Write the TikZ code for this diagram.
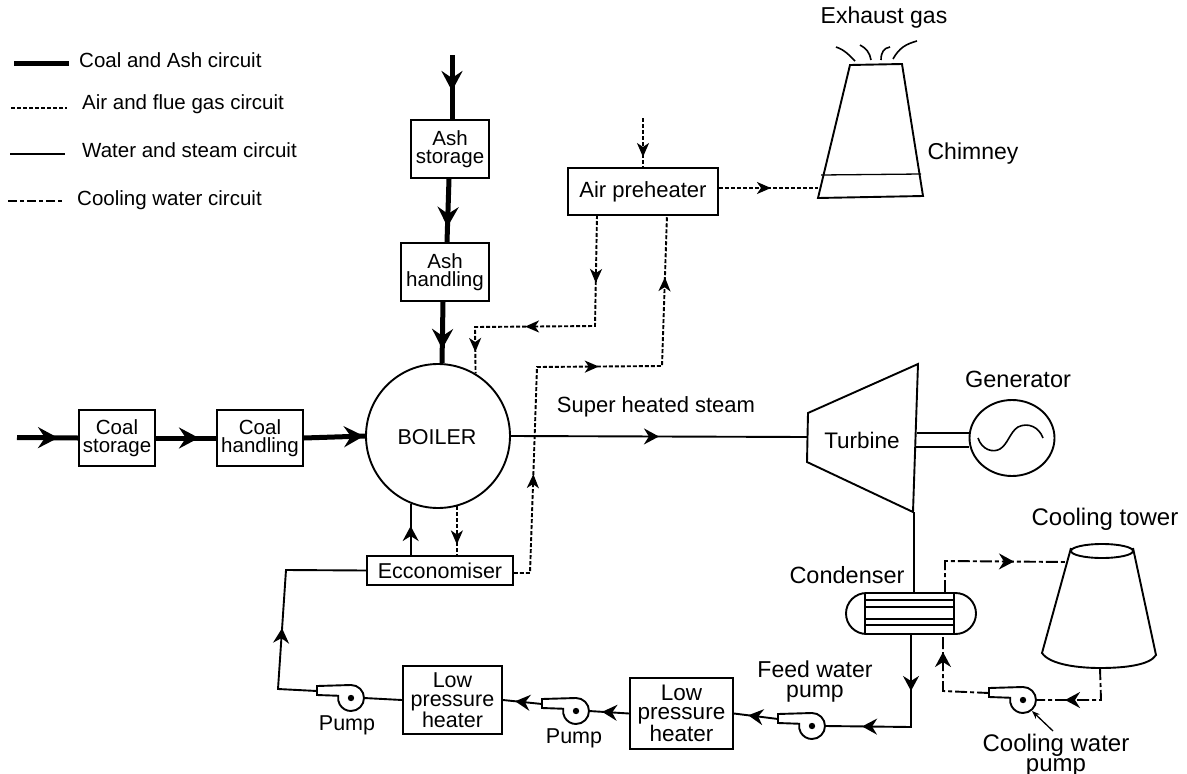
\documentclass[tikz,border=0pt]{standalone}
\usepackage{fontspec}
\setmainfont{Liberation Sans}
\usetikzlibrary{arrows.meta,decorations.markings,shapes.geometric,shapes.misc}
\tikzset{
    bigtip/.tip={Stealth[length=20pt,width=21pt,inset=7pt]},
    midtip/.tip={Stealth[length=15pt,width=16pt,inset=5pt]},
    airtip/.tip={Stealth[length=14pt,width=12pt,inset=4pt]},
    coal/.style={line width=5pt},
    water/.style={line width=1.9pt},
    air/.style={line width=1.9pt,dash pattern=on 4pt off 2pt},
    cool/.style={line width=1.9pt,dash pattern=on 12pt off 3pt on 4pt off 3pt},
    keyair/.style={line width=1.3pt,dash pattern=on 4pt off 2pt},
    keywater/.style={line width=1.6pt},
    keycool/.style={line width=1.6pt,dash pattern=on 9pt off 3pt on 4pt off 3pt},
    coalflow/.style={postaction={decorate,decoration={markings,mark=at position #1 with {\arrow{bigtip}}}}},
    flow/.style={postaction={decorate,decoration={markings,mark=at position #1 with {\arrow{midtip}}}}},
    airflow/.style={postaction={decorate,decoration={markings,mark=at position #1 with {\arrow{airtip}}}}},
    lbl/.style={inner sep=0pt,align=center,font=\fontsize{21.5}{20}\selectfont},
    biglbl/.style={inner sep=0pt,align=center,font=\fontsize{23.5}{20}\selectfont},
    keylbl/.style={inner sep=0pt,anchor=west,font=\fontsize{20.5}{20}\selectfont},
    box/.style={draw,line width=1.9pt,inner sep=0pt,align=center,font=\fontsize{21.5}{19.5}\selectfont},
    smallbox/.style={box,font=\fontsize{20.5}{18.5}\selectfont},
    pump/.pic={
        \draw[line width=1.9pt,fill=white] (-34,-12) -- (0,-13) arc[start angle=-90,end angle=190,radius=13] -- (-34,-3) -- cycle;
        \fill (0,0) circle (3.2);
        \coordinate (-in) at (13,0);
        \coordinate (-out) at (-34,-7);
        \coordinate (-call) at (9,11);
    }
}
\begin{document}
\begin{tikzpicture}[x=1pt,y=-1pt]
\useasboundingbox (0,0) rectangle (1187,774);

\foreach \i/\xa/\xb/\ya/\xt/\yt/\s/\t in {
    1/14/69/63/79/60/coal/Coal and Ash circuit,
    2/11/67/108/82/104/keyair/Air and flue gas circuit,
    3/10/65/154/82/150/keywater/Water and steam circuit,
    4/8/62/201/77/200/keycool/Cooling water circuit} {
    \coordinate (keya\i) at (\xa,\ya);
    \coordinate (keyb\i) at (\xb,\ya);
    \draw[\s] (keya\i) -- (keyb\i);
    \node[keylbl] (key\i) at (\xt,\yt) {\t};
}

\node[smallbox,minimum width=78pt,minimum height=58pt] (ashstore) at (450,149) {Ash\\storage};
\node[smallbox,minimum width=88pt,minimum height=58pt] (ashhandle) at (445,272) {Ash\\handling};
\node[smallbox,minimum width=76pt,minimum height=56pt] (coalstore) at (117,438) {Coal\\storage};
\node[smallbox,minimum width=86pt,minimum height=56pt] (coalhandle) at (260,438) {Coal\\handling};
\node[draw,circle,line width=1.9pt,inner sep=0pt,minimum size=144pt] (boiler) at (438,436) {};
\node[lbl] (boilertxt) at (437,437) {BOILER};
\node[box,minimum width=150pt,minimum height=47pt,font=\fontsize{22}{20}\selectfont] (airheat) at (643,191.5) {Air preheater};
\node[box,minimum width=146pt,minimum height=29pt] (econ) at (440,570.5) {Ecconomiser};
\node[box,minimum width=99pt,minimum height=68pt] (lpha) at (452.5,700) {Low\\pressure\\heater};
\node[box,minimum width=103pt,minimum height=71pt,font=\fontsize{22.5}{19.5}\selectfont] (lphb) at (681.5,713.5) {Low\\pressure\\heater};

\pic (pa) at (351,698) {pump};
\pic (pb) at (576,711) {pump};
\pic (fwp) at (812,726) {pump};
\pic (cwp) at (1023,700) {pump};

\coordinate (ashin) at (452,55);
\coordinate (coalin) at (17,437.5);
\draw[coal,coalflow=36pt] (ashin) -- ([xshift=2pt]ashstore.north);
\draw[coal,coalflow=48pt] ([xshift=-1pt]ashstore.south) -- ([xshift=2pt]ashhandle.north);
\draw[coal,coalflow=47pt] ([xshift=-2pt]ashhandle.south) -- (boiler.north -| 442,0);
\draw[coal,coalflow=41pt] (coalin) -- (coalstore.west);
\draw[coal,coalflow=43pt] (coalstore.east) -- (coalhandle.west);
\draw[coal,coalflow=60pt] (coalhandle.east) -- (boiler.west);

\coordinate (airin) at (643,118);
\coordinate (aa) at (597,215);
\coordinate (ab) at (595,326);
\coordinate (ac) at (475,327);
\coordinate (ea) at (530,573);
\coordinate (eb) at (537,367);
\coordinate (ec) at (662,366);
\coordinate (ed) at (667,215);
\coordinate (chimin) at (818,188);
\draw[air,airflow=39pt] (airin) -- (airin |- airheat.north);
\draw[air,airflow=68pt,airflow=181pt,airflow=256pt] (aa) -- (ab) -- (ac) -- (boiler.59);
\draw[air,airflow=115pt,airflow=284pt,airflow=436pt] (ea -| econ.east) -- (ea) -- (eb) -- (ec) -- (ed);
\draw[air,airflow=52pt] (chimin -| airheat.east) -- (chimin);
\draw[air,airflow=38pt] (boiler.285) -- (boiler.285 |- econ.north);

\draw[line width=1.9pt] (850,65) -- (902,64) -- (923,196) -- (818,198) -- cycle;
\draw[line width=1.3pt] (821,175) -- (921,174);
\draw[line width=1.6pt] (836,47) .. controls (845,50) and (850,56) .. (855,61);
\draw[line width=1.6pt] (860,45) .. controls (866,48) and (870,53) .. (871,60);
\draw[line width=1.6pt] (881,60) .. controls (881,52) and (884,48) .. (890,47);
\draw[line width=1.6pt] (893,59) .. controls (899,48) and (906,44) .. (917,41);
\node[biglbl,font=\fontsize{23}{20}\selectfont] (exhaust) at (884,18) {Exhaust gas};
\node[biglbl,font=\fontsize{23}{20}\selectfont] (chimney) at (973,154) {Chimney};

\coordinate (turbin) at (807,437);
\draw[water,flow=148pt] (boiler.east) -- (turbin);
\node[lbl,font=\fontsize{22}{20}\selectfont] (steam) at (656,407) {Super heated steam};
\draw[line width=1.9pt] (808,413) -- (918,364) -- (913,512) -- (807,462) -- cycle;
\node[lbl,font=\fontsize{22.5}{20}\selectfont] (turbine) at (862,440) {Turbine};
\node[draw,ellipse,line width=1.9pt,inner sep=0pt,minimum width=85pt,minimum height=76pt] (gen) at (1012,438) {};
\node[biglbl] (gentxt) at (1018,379) {Generator};
\coordinate (shafta) at (917,433);
\coordinate (shaftb) at (916,447);
\draw[water] (shafta) -- (shafta -| gen.west);
\draw[water] (shaftb) -- (shaftb -| gen.west);
\draw[line width=1.6pt] (978,438) .. controls (982,450) and (993,453) .. (1000,449) .. controls (1008,444) and (1010,432) .. (1018,427) .. controls (1028,422) and (1039,427) .. (1043,438);

\node[draw,rounded rectangle,line width=1.9pt,inner sep=0pt,minimum width=130pt,minimum height=41pt] (cond) at (911,613.5) {};
\node[biglbl] (condtxt) at (847,575) {Condenser};
\draw[water] (865,593) -- (865,634);
\draw[water] (954,593) -- (954,634);
\foreach \y in {600,607,619,625} {
    \draw[water] (865,\y) -- (954,\y);
}
\coordinate (turbout) at (914,512);
\coordinate (condbot) at (911,727);
\draw[water] (turbout) -- (turbout |- cond.north);
\draw[water,flow=56pt,flow=141pt] (condbot |- cond.south) -- (condbot) -- (fwp-in);
\draw[water,flow=30pt] (fwp-out) -- (lphb.east);
\draw[water,flow=27pt] (lphb.west) -- (pb-in);
\draw[water,flow=27pt] (pb-out) -- (lpha.east);
\draw[water] (lpha.west) -- (pa-in);
\coordinate (feeda) at (278,689);
\coordinate (feedb) at (286,570);
\draw[water,flow=100pt] (pa-out) -- (feeda) -- (feedb) -- (econ.west);
\draw[water,flow=29pt] (boiler.248 |- econ.north) -- (boiler.248);

\node[lbl] (pumpa) at (347,725) {Pump};
\node[lbl] (pumpb) at (574,738) {Pump};
\node[lbl,font=\fontsize{23}{20}\selectfont] (fwptxt) at (815,682) {Feed water\\pump};

\draw[line width=1.9pt] (1071,548) -- (1042,653) .. controls (1050,665) and (1080,668) .. (1100,668) .. controls (1125,668) and (1150,665) .. (1156,655) -- (1133,548);
\draw[line width=1.9pt] (1102,551) ellipse [x radius=31,y radius=7];
\node[biglbl,font=\fontsize{24}{20}\selectfont] (towertxt) at (1105,519) {Cooling tower};
\coordinate (ca) at (945,561);
\coordinate (cb) at (1067,562);
\coordinate (cc) at (1100,668);
\coordinate (cd) at (1101,700);
\coordinate (ce) at (943,691);
\draw[cool,flow=100pt] (ca |- cond.north) -- (ca) -- (cb);
\draw[cool,flow=68pt] (cc) -- (cd) -- (cwp-in);
\draw[cool,flow=85pt] (cwp-out) -- (ce) -- (ce |- cond.south);
\node[biglbl,font=\fontsize{24}{20}\selectfont] (cwptxt) at (1056,755) {Cooling water\\pump};
\coordinate (calltail) at (1053,731);
\draw[line width=1.3pt,-{Stealth[length=8pt,width=6pt]}] (calltail) -- (cwp-call);
\end{tikzpicture}
\end{document}
